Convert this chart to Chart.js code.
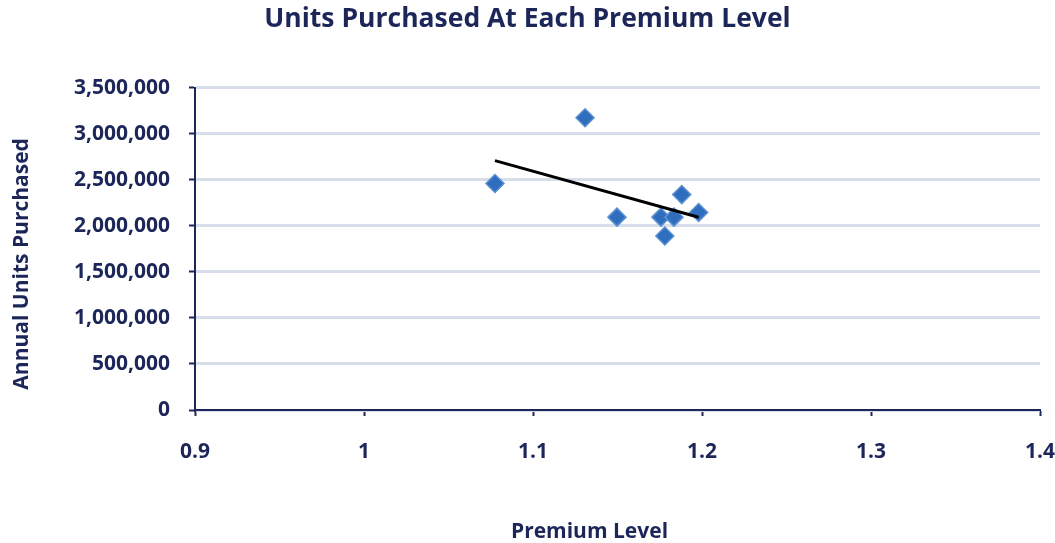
<!DOCTYPE html>
<html>
<head>
<meta charset="utf-8">
<script src="https://cdn.jsdelivr.net/npm/chart.js@4/dist/chart.umd.min.js"></script>
<style>
  html, body { margin: 0; padding: 0; background: #ffffff; }
  #wrap { width: 1055px; height: 543px; position: relative; }
</style>
</head>
<body>
<div id="wrap"><canvas id="chart"></canvas></div>
<script>
// Premium level vs. annual units purchased
const premiumLevels = [1.0775, 1.1308, 1.1497, 1.1757, 1.1834, 1.1780, 1.1880, 1.1980];
const unitsPurchased = [2460000, 3175000, 2095000, 2095000, 2095000, 1890000, 2340000, 2145000];

const xTicks = [0.9, 1, 1.1, 1.2, 1.3, 1.4];
const yTicks = [0, 500000, 1000000, 1500000, 2000000, 2500000, 3000000, 3500000];

const xAxisTitle = 'Premium Level';
const yAxisTitle = 'Annual Units Purchased';

const NAVY = '#1D2659';
const FONT = '"Open Sans", Lato, "Liberation Sans", sans-serif';

// Least-squares linear trend over the observed premium range
function linearTrend(xs, ys) {
  const n = xs.length;
  const mx = xs.reduce((a, b) => a + b, 0) / n;
  const my = ys.reduce((a, b) => a + b, 0) / n;
  let sxy = 0, sxx = 0;
  for (let i = 0; i < n; i++) {
    sxy += (xs[i] - mx) * (ys[i] - my);
    sxx += (xs[i] - mx) * (xs[i] - mx);
  }
  const slope = sxy / sxx;
  const lo = Math.min(...xs), hi = Math.max(...xs);
  return [
    { x: lo, y: my + slope * (lo - mx) },
    { x: hi, y: my + slope * (hi - mx) }
  ];
}

const points = premiumLevels.map((x, i) => ({ x, y: unitsPurchased[i] }));
const trend = linearTrend(premiumLevels, unitsPurchased);

// Axis titles, placed slightly off the plot centre
const axisTitles = {
  id: 'axisTitles',
  afterDraw(chart) {
    const { ctx, chartArea: a } = chart;
    ctx.save();
    ctx.fillStyle = NAVY;
    ctx.font = `bold 21px ${FONT}`;
    ctx.textAlign = 'center';
    ctx.textBaseline = 'middle';
    ctx.fillText(xAxisTitle, (a.left + a.right) / 2 - 28, chart.height - 11);
    ctx.translate(22, (a.top + a.bottom) / 2 + 15);
    ctx.rotate(-Math.PI / 2);
    ctx.fillText(yAxisTitle, 0, 0);
    ctx.restore();
  }
};

new Chart(document.getElementById('chart'), {
  type: 'scatter',
  data: {
    datasets: [
      {
        label: 'Trend',
        data: trend,
        showLine: true,
        borderColor: '#000000',
        borderWidth: 3,
        pointRadius: 0,
        order: 0
      },
      {
        label: 'Units Purchased',
        data: points,
        pointStyle: 'rectRot',
        pointRadius: 9,
        pointHoverRadius: 9,
        backgroundColor: '#2F6EBE',
        borderColor: '#5A8FD0',
        borderWidth: 1.5,
        order: 1
      }
    ]
  },
  plugins: [axisTitles],
  options: {
    responsive: true,
    maintainAspectRatio: false,
    animation: false,
    devicePixelRatio: 1,
    layout: { padding: 0 },
    plugins: {
      legend: { display: false },
      tooltip: { enabled: false },
      title: {
        display: true,
        text: 'Units Purchased At Each Premium Level',
        color: NAVY,
        font: { family: FONT, size: 26.5, weight: 'bold', lineHeight: 1.2 },
        padding: { top: 4, bottom: 52 }
      }
    },
    scales: {
      x: {
        type: 'linear',
        min: 0.9,
        max: 1.4,
        afterBuildTicks: (scale) => { scale.ticks = xTicks.map(v => ({ value: v })); },
        afterFit: (scale) => {
          scale.height = 133;
          scale.paddingLeft = 0;
          scale.paddingRight = 15;
        },
        border: { display: true, color: NAVY, width: 2 },
        grid: {
          drawOnChartArea: false,
          drawTicks: true,
          tickLength: 6,
          tickColor: NAVY,
          tickWidth: 2
        },
        ticks: {
          color: NAVY,
          padding: 23,
          maxRotation: 0,
          font: { family: FONT, size: 21, weight: 'bold' },
          callback: (v) => String(v)
        },
        title: { display: false }
      },
      y: {
        type: 'linear',
        min: 0,
        max: 3500000,
        afterBuildTicks: (scale) => { scale.ticks = yTicks.map(v => ({ value: v })); },
        afterFit: (scale) => { scale.width = 195; },
        border: { display: true, color: NAVY, width: 2 },
        grid: {
          color: '#D7DEEA',
          lineWidth: 3,
          drawTicks: true,
          tickLength: 6,
          tickColor: NAVY,
          tickWidth: 2
        },
        ticks: {
          color: NAVY,
          padding: 19,
          font: { family: FONT, size: 21, weight: 'bold' },
          callback: (v) => v.toLocaleString('en-US')
        },
        title: { display: false }
      }
    }
  }
});
</script>
</body>
</html>
